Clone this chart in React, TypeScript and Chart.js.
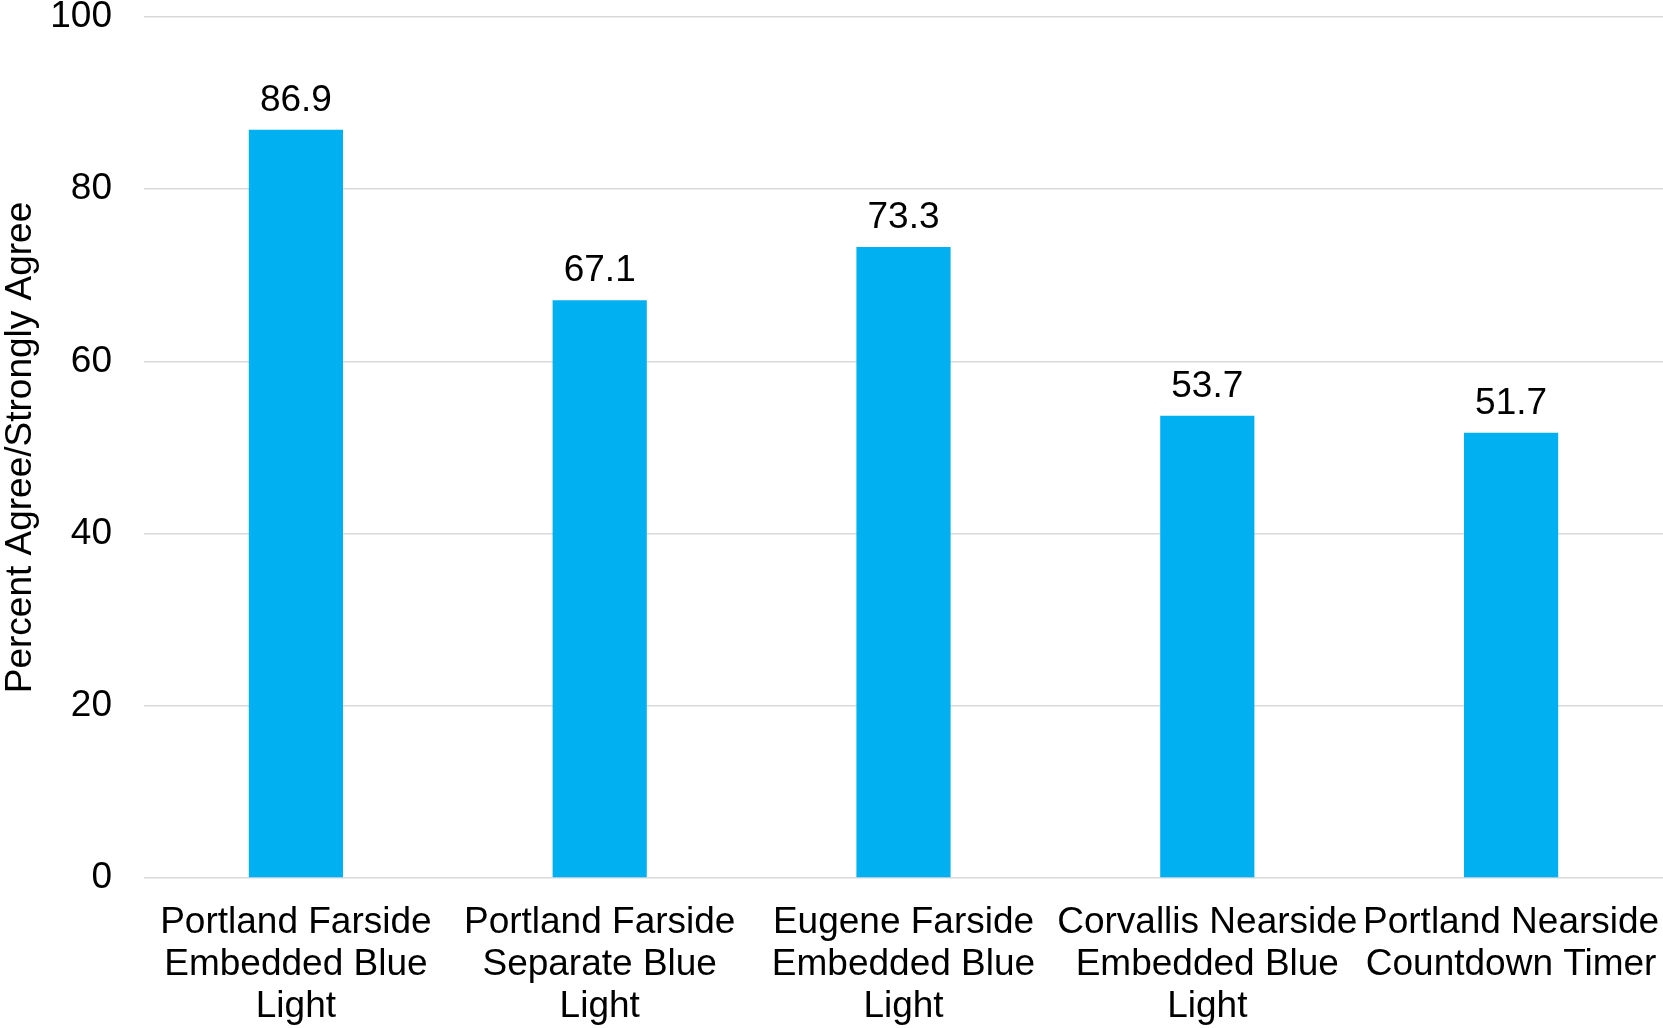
import React, { useEffect, useRef } from "react";
import { Chart, registerables } from "chart.js";

Chart.register(...registerables);

// Survey results: share of respondents who agree / strongly agree, per treatment site
const categories: string[][] = [
  ["Portland Farside", "Embedded Blue", "Light"],
  ["Portland Farside", "Separate Blue", "Light"],
  ["Eugene Farside", "Embedded Blue", "Light"],
  ["Corvallis Nearside", "Embedded Blue", "Light"],
  ["Portland Nearside", "Countdown Timer"],
];
const percentAgree: number[] = [86.9, 67.1, 73.3, 53.7, 51.7];
const yTicks: number[] = [0, 20, 40, 60, 80, 100];
const yTitle = "Percent Agree/Strongly Agree";

const FONT = "'Liberation Sans', Arial, sans-serif";
const BAR_COLOR = "#00B0F0";

// Writes each bar's value just above its top edge
const valueLabels = {
  id: "valueLabels",
  afterDatasetsDraw(chart: any) {
    const ctx = chart.ctx;
    const meta = chart.getDatasetMeta(0);
    ctx.save();
    ctx.font = `37px ${FONT}`;
    ctx.fillStyle = "#000000";
    ctx.textAlign = "center";
    ctx.textBaseline = "alphabetic";
    meta.data.forEach((bar: any, i: number) => {
      const v = chart.data.datasets[0].data[i] as number;
      ctx.fillText(v.toFixed(1), bar.x, bar.y - 19);
    });
    ctx.restore();
  },
};

export default function App() {
  const canvasRef = useRef<HTMLCanvasElement | null>(null);

  useEffect(() => {
    if (!canvasRef.current) return;
    const chart = new Chart(canvasRef.current, {
      type: "bar",
      data: {
        labels: categories as any,
        datasets: [
          {
            data: percentAgree,
            backgroundColor: BAR_COLOR,
            borderWidth: 0,
            categoryPercentage: 1,
            barPercentage: 0.31,
          },
        ],
      },
      options: {
        animation: false,
        responsive: true,
        maintainAspectRatio: false,
        layout: { padding: { top: 17, right: 0, bottom: 0, left: 0 } },
        plugins: {
          legend: { display: false },
          tooltip: { enabled: false },
        },
        scales: {
          x: {
            afterFit: (s: any) => {
              s.height = 150;
              s.paddingLeft = 0;
              s.paddingRight = 0;
            },
            grid: { display: false, drawTicks: false },
            border: { display: false },
            ticks: {
              color: "#000000",
              font: { family: FONT, size: 37, lineHeight: 1.13 },
              maxRotation: 0,
              minRotation: 0,
              autoSkip: false,
              padding: 24,
            },
          },
          y: {
            min: 0,
            max: 100,
            afterBuildTicks: (axis: any) => {
              axis.ticks = yTicks.map((v) => ({ value: v }));
            },
            afterFit: (s: any) => {
              s.width = 144;
              s.paddingTop = 0;
              s.paddingBottom = 0;
            },
            grid: { color: "#d9d9d9", lineWidth: 1.5, drawTicks: false },
            border: { display: false },
            ticks: {
              color: "#000000",
              font: { family: FONT, size: 37 },
              padding: 32,
            },
            title: {
              display: true,
              text: yTitle,
              color: "#000000",
              font: { family: FONT, size: 37, lineHeight: 1.13 },
              padding: { top: 0, bottom: 8 },
            },
          },
        },
      },
      plugins: [valueLabels],
    });
    return () => chart.destroy();
  }, []);

  return (
    <div style={{ position: "fixed", left: 0, top: 0, width: "100vw", height: "100vh", background: "#ffffff" }}>
      <canvas ref={canvasRef} />
    </div>
  );
}
